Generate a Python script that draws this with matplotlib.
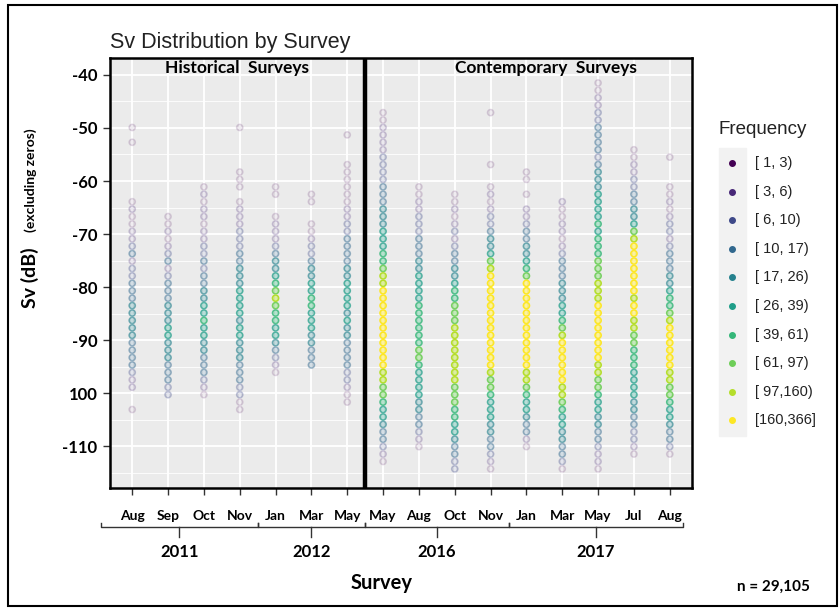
import numpy as np
import matplotlib
matplotlib.use("Agg")
import matplotlib.pyplot as plt
from matplotlib.patches import Rectangle
from matplotlib.transforms import blended_transform_factory

# survey months, grouped by year
MONTHS = ["Aug", "Sep", "Oct", "Nov", "Jan", "Mar", "May",
          "May", "Aug", "Oct", "Nov", "Jan", "Mar", "May", "Jul", "Aug"]
YEARS = ["2011", "2012", "2016", "2017"]
YEAR_COUNTS = [4, 3, 4, 5]

# Sv levels (dB): level k sits at SV_TOP - k * SV_STEP
SV_TOP = -41.5
SV_STEP = 1.4

# first level present in each survey, then frequency bin per level ('.' = no data)
START_LEVEL = [6, 18, 14, 6, 14, 15, 7, 4, 14, 15, 4, 12, 16, 0, 9, 10]
FREQ_BINS = [
    "0.0......." + "01001123122333444443333211" + "..0",
    "0010123123334445544433322",
    "01011011223233445565544333210",
    "0.....000." + "01112223344455554554443332200",
    "00..0111234456787665543210",
    "00..00122344556655544333",
    "0..." + "000000" + "1122" + "3333" + "445555454" + "43333" + "22" + "100",
    "001111222233344455566788" + "99999999999" + "8877655433210",
    "001122233344555566666677655554433210",
    "00101212334456677788888888777665543322",
    "0......0.." + "010122344578" + "9999999999999" + "87765554433210",
    "00.0.1123344567" + "999999999999" + "88765543310",
    "1001101233344455678999999887655443320",
    "001122333323444555565666777888" + "99999999" + "887765544332110",
    "0011223344578" + "9999999" + "899" + "88" + "77" + "666" + "5555" + "44" + "33" + "22" + "10",
    "0..." + "0010122123334456678" + "999999" + "887765543320",
]

FREQ_LABELS = ["[ 1, 3)", "[ 3, 6)", "[ 6, 10)", "[ 10, 17)", "[ 17, 26)",
               "[ 26, 39)", "[ 39, 61)", "[ 61, 97)", "[ 97,160)", "[160,366]"]
Y_TICKS = [-40, -50, -60, -70, -80, -90, -100, -110]
Y_TICK_LABELS = ["-40", "-50", "-60", "-70", "-80", "-90", "100", "-110"]

CALIBRI = ["Lato", "DejaVu Sans"]
ARIAL = ["Liberation Sans", "DejaVu Sans"]

colors = plt.cm.viridis(np.linspace(0, 1, len(FREQ_LABELS)))
alphas = [0.15, 0.22, 0.3, 0.45, 0.6, 0.7, 0.8, 0.9, 1.0, 1.0]

fig = plt.figure(figsize=(8.39, 6.10), dpi=100)
ax = fig.add_axes([110 / 839, 1 - 488 / 610, 582 / 839, 430 / 610])
ax.set_facecolor("#ebebeb")

# one scatter per survey column, colour by frequency bin
for i, (start, codes) in enumerate(zip(START_LEVEL, FREQ_BINS)):
    xs, ys, face, edge = [], [], [], []
    for j, c in enumerate(codes):
        if c == ".":
            continue
        b = int(c)
        col = colors[b]
        a = alphas[b]
        xs.append(i)
        ys.append(SV_TOP - (start + j) * SV_STEP)
        face.append((col[0], col[1], col[2], a * 0.45))
        edge.append((col[0], col[1], col[2], a))
    ax.scatter(xs, ys, s=20, facecolors=face, edgecolors=edge,
               linewidths=1.1, zorder=3)

ax.set_xlim(-0.62, 15.62)
ax.set_ylim(-117.9, -36.8)

ax.set_yticks(Y_TICKS)
ax.set_yticklabels(Y_TICK_LABELS, fontfamily=CALIBRI, fontweight="bold", fontsize=12)
ax.set_yticks(np.arange(-115, -36, 10), minor=True)
ax.set_xticks(range(len(MONTHS)))
ax.set_xticklabels(MONTHS, fontfamily=CALIBRI, fontweight="bold", fontsize=10)
ax.tick_params(axis="both", which="major", length=5, color="#333333", width=1)
ax.tick_params(axis="x", pad=11)
ax.tick_params(axis="y", pad=4)
ax.tick_params(axis="y", which="minor", length=0)

ax.grid(True, which="major", color="white", linewidth=1.3, zorder=0)
ax.grid(True, which="minor", axis="y", color="white", linewidth=0.6, zorder=0)
ax.set_axisbelow(True)
for sp in ax.spines.values():
    sp.set_color("black")
    sp.set_linewidth(1.8)

# divider between historical and contemporary surveys
ax.axvline(6.5, color="black", linewidth=3.2, zorder=4)
ax.text(2.92, -38.6, "Historical  Surveys", ha="center", va="center",
        fontfamily=CALIBRI, fontweight="bold", fontsize=12.5, zorder=5)
ax.text(11.55, -38.6, "Contemporary  Surveys", ha="center", va="center",
        fontfamily=CALIBRI, fontweight="bold", fontsize=12.5, zorder=5)

# year brackets under the month labels
trans = blended_transform_factory(ax.transData, fig.transFigure)
edges = [-0.87]
pos = 0
for n in YEAR_COUNTS:
    pos += n
    edges.append(pos - 0.5)
edges[-1] = 15.37
y_line = 1 - 527 / 610
up = 4 / 610
down = 10 / 610
for k, yr in enumerate(YEARS):
    x0, x1 = edges[k], edges[k + 1]
    xm = (x0 + x1) / 2
    ax.plot([x0, x0, x1, x1], [y_line + up, y_line, y_line, y_line + up],
            color="#333333", lw=1, transform=trans, clip_on=False)
    ax.plot([xm, xm], [y_line, y_line - down], color="#333333", lw=1,
            transform=trans, clip_on=False)
    ax.text(xm, 1 - 552 / 610, yr, ha="center", va="center", transform=trans,
            fontfamily=CALIBRI, fontweight="bold", fontsize=12)

fig.text(382 / 839, 1 - 583 / 610, "Survey", ha="center", va="center",
         fontfamily=CALIBRI, fontweight="bold", fontsize=14.5)
fig.text(773 / 839, 1 - 587 / 610, "n = 29,105", ha="center", va="center",
         fontfamily=CALIBRI, fontweight="bold", fontsize=11)

fig.text(110 / 839, 1 - 48 / 610, "Sv Distribution by Survey", ha="left",
         va="baseline", fontfamily=ARIAL, fontsize=15.5, color="#222222")

# y axis title in two sizes
fig.text(30 / 839, 1 - 308 / 610, "Sv (dB)", rotation=90, ha="center",
         va="bottom", fontfamily=CALIBRI, fontweight="bold", fontsize=14)
fig.text(31 / 839, 1 - 232 / 610, "(excluding zeros)", rotation=90, ha="center",
         va="bottom", fontfamily=CALIBRI, fontweight="bold", fontsize=10)

# legend
fig.text(718 / 839, 1 - 130 / 610, "Frequency", ha="left", va="center",
         fontfamily=ARIAL, fontsize=13.5, color="#222222")
fig.patches.append(Rectangle((719 / 839, 1 - 436 / 610), 27 / 839, 288 / 610,
                             transform=fig.transFigure, color="#f2f2f2", zorder=0))
for k, lab in enumerate(FREQ_LABELS):
    yy = 1 - (163 + k * 28.6) / 610
    fig.add_artist(plt.Line2D([732 / 839], [yy], marker="o", markersize=4,
                              color=colors[k], linestyle="none",
                              transform=fig.transFigure))
    fig.text(755 / 839, yy, lab, ha="left", va="center", fontfamily=ARIAL,
             fontsize=10.5, color="#222222")

# outer frame
fig.patches.append(Rectangle((8 / 839, 4 / 610), 829 / 839, 601 / 610,
                             transform=fig.transFigure, fill=False,
                             edgecolor="black", linewidth=1.5))

fig.savefig("out.png", dpi=100)
